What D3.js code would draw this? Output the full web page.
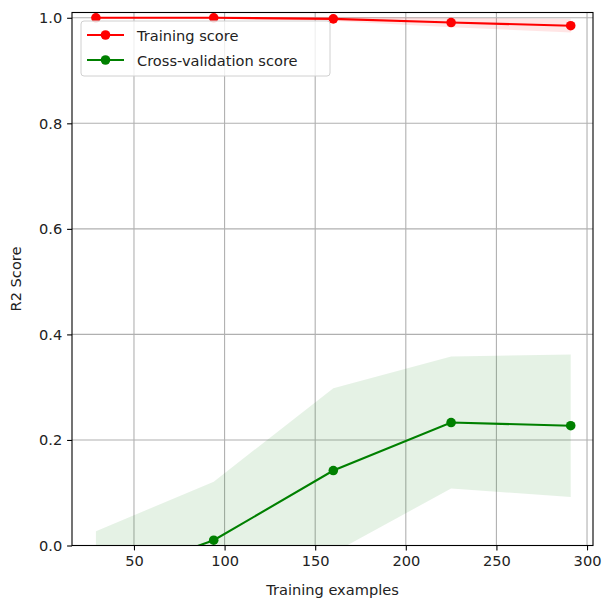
<!DOCTYPE html>
<html>
<head>
<meta charset="utf-8">
<script src="https://cdn.jsdelivr.net/npm/d3@7"></script>
<style>
  body { margin: 0; background: #fff; }
  svg { font-family: "DejaVu Sans", sans-serif; }
</style>
</head>
<body>
<svg id="chart" width="604" height="605"></svg>
<script>
// learning curve values
var trainSizes = [29, 94, 160, 225, 291];
var trainMean = [1.0, 1.0, 0.998, 0.991, 0.985];
var trainStd = [0.0005, 0.001, 0.004, 0.009, 0.013];
var cvMean = [-0.07, 0.010, 0.142, 0.233, 0.227];
var cvStd = [0.097, 0.111, 0.156, 0.125, 0.135];
var xTicks = [50, 100, 150, 200, 250, 300];
var yTicks = [0.0, 0.2, 0.4, 0.6, 0.8, 1.0];

var svg = d3.select("#chart");
var margin = {left: 72, right: 11, top: 12.5, bottom: 59.5};
var width = 604 - margin.left - margin.right;
var height = 605 - margin.top - margin.bottom;
var fontSize = "14.6px";

var x = d3.scaleLinear().domain([15.8, 303.3]).range([0, width]);
var y = d3.scaleLinear().domain([0, 1.01]).range([height, 0]);

var defs = svg.append("defs");
defs.append("clipPath").attr("id", "clip")
  .append("rect").attr("width", width).attr("height", height);

var g = svg.append("g").attr("transform", "translate(" + margin.left + "," + margin.top + ")");

// grid
g.append("g").selectAll("line").data(xTicks).enter().append("line")
  .attr("x1", function(d){ return x(d); }).attr("x2", function(d){ return x(d); })
  .attr("y1", 0).attr("y2", height)
  .attr("stroke", "#b0b0b0").attr("stroke-width", 1.1);
g.append("g").selectAll("line").data(yTicks).enter().append("line")
  .attr("y1", function(d){ return y(d); }).attr("y2", function(d){ return y(d); })
  .attr("x1", 0).attr("x2", width)
  .attr("stroke", "#b0b0b0").attr("stroke-width", 1.1);

var plot = g.append("g").attr("clip-path", "url(#clip)");

function band(mean, std, color) {
  var area = d3.area()
    .x(function(d, i){ return x(trainSizes[i]); })
    .y0(function(d, i){ return y(mean[i] - std[i]); })
    .y1(function(d, i){ return y(mean[i] + std[i]); });
  plot.append("path").datum(mean).attr("d", area)
    .attr("fill", color).attr("fill-opacity", 0.1);
}

function curve(mean, color) {
  var line = d3.line()
    .x(function(d, i){ return x(trainSizes[i]); })
    .y(function(d){ return y(d); });
  plot.append("path").datum(mean).attr("d", line)
    .attr("fill", "none").attr("stroke", color).attr("stroke-width", 2.1);
  plot.append("g").selectAll("circle").data(mean).enter().append("circle")
    .attr("cx", function(d, i){ return x(trainSizes[i]); })
    .attr("cy", function(d){ return y(d); })
    .attr("r", 4.8).attr("fill", color);
}

band(trainMean, trainStd, "#ff0000");
band(cvMean, cvStd, "#008000");
curve(trainMean, "#ff0000");
curve(cvMean, "#008000");

// axes
var xAxis = d3.axisBottom(x).tickValues(xTicks).tickSize(4.9).tickPadding(5.5)
  .tickFormat(d3.format("d"));
var yAxis = d3.axisLeft(y).tickValues(yTicks).tickSize(4.9).tickPadding(4.9)
  .tickFormat(d3.format(".1f"));

var gx = g.append("g").attr("transform", "translate(0," + height + ")").call(xAxis);
var gy = g.append("g").call(yAxis);
[gx, gy].forEach(function(a){
  a.select(".domain").remove();
  a.selectAll(".tick line").attr("stroke", "#000").attr("stroke-width", 1.1);
  a.selectAll(".tick text").attr("fill", "#222").style("font-size", fontSize)
    .style("font-family", "DejaVu Sans, sans-serif");
});

// frame
g.append("rect").attr("width", width).attr("height", height)
  .attr("fill", "none").attr("stroke", "#000").attr("stroke-width", 1.1);

// axis labels
svg.append("text").attr("x", margin.left + width / 2).attr("y", 594.5)
  .attr("text-anchor", "middle").style("font-size", fontSize).attr("fill", "#222")
  .text("Training examples");
svg.append("text")
  .attr("transform", "translate(20.5," + (margin.top + height / 2) + ") rotate(-90)")
  .attr("text-anchor", "middle").style("font-size", fontSize).attr("fill", "#222")
  .text("R2 Score");

// legend
var legendItems = [
  {label: "Training score", color: "#ff0000"},
  {label: "Cross-validation score", color: "#008000"}
];
var lg = svg.append("g").attr("transform", "translate(81,21)");
lg.append("rect").attr("width", 249).attr("height", 55).attr("rx", 3)
  .attr("fill", "#fff").attr("fill-opacity", 0.8)
  .attr("stroke", "#d0d0d0").attr("stroke-width", 1);
var row = lg.selectAll("g.item").data(legendItems).enter().append("g")
  .attr("class", "item")
  .attr("transform", function(d, i){ return "translate(0," + (14 + i * 25) + ")"; });
row.append("line").attr("x1", 6).attr("x2", 43).attr("y1", 0).attr("y2", 0)
  .attr("stroke", function(d){ return d.color; }).attr("stroke-width", 2.1);
row.append("circle").attr("cx", 24.5).attr("cy", 0).attr("r", 4.8)
  .attr("fill", function(d){ return d.color; });
row.append("text").attr("x", 56).attr("y", 5.5).style("font-size", fontSize)
  .attr("fill", "#222").text(function(d){ return d.label; });
</script>
</body>
</html>
